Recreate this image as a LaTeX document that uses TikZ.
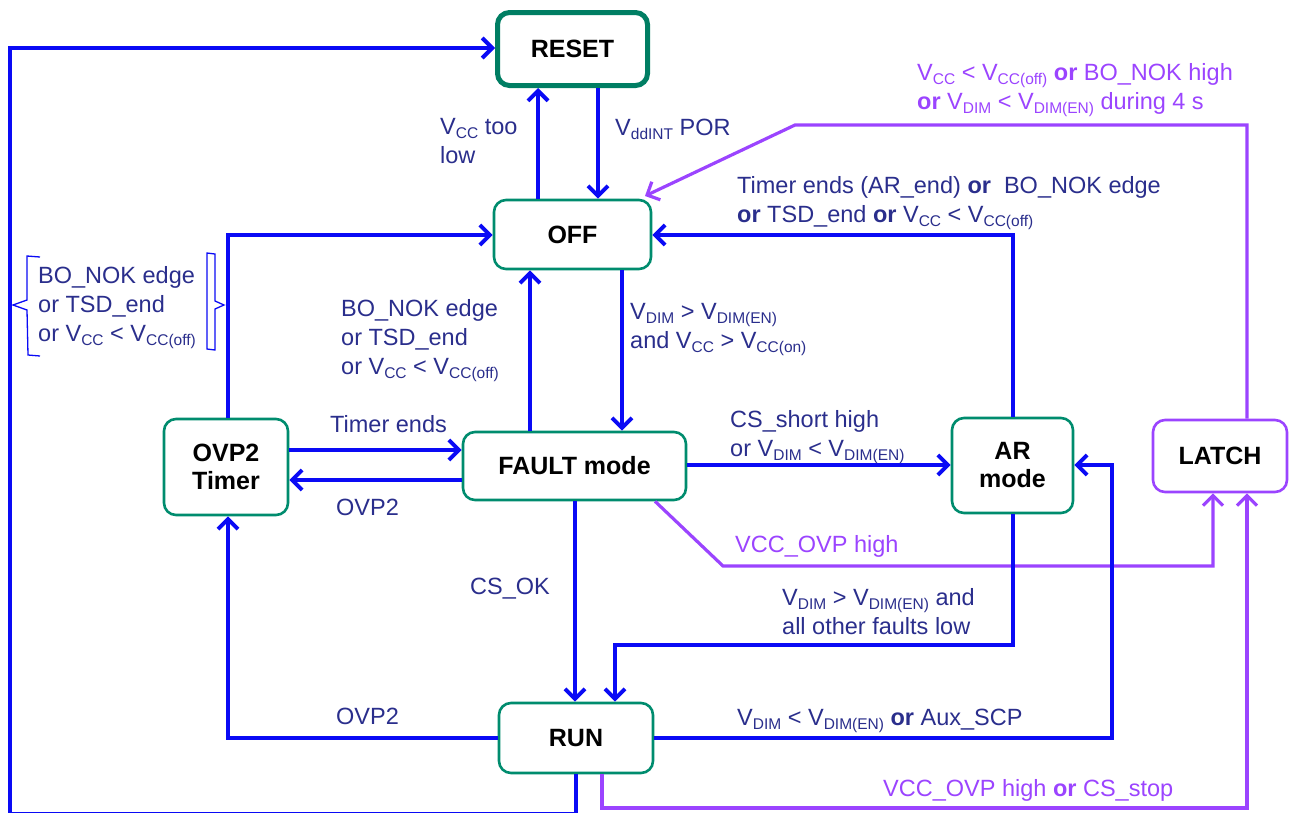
\documentclass[tikz,border=0pt]{standalone}
\usepackage{fontspec}
\setmainfont{Liberation Sans}
\usetikzlibrary{arrows.meta}
\definecolor{bl}{RGB}{10,10,245}
\definecolor{pu}{RGB}{155,68,255}
\definecolor{gr}{RGB}{0,140,110}
\definecolor{navy}{RGB}{42,46,140}
\newcommand{\sbs}[1]{\raisebox{-0.4ex}{\fontsize{15.5}{15.5}\selectfont #1}}
\begin{document}
\begin{tikzpicture}[x=1pt,y=-1pt,
  box/.style={draw=gr, line width=2.6pt, rounded corners=12pt, fill=white,
    font=\fontsize{25}{28}\selectfont\bfseries, align=center, inner sep=0pt},
  lab/.style={text=navy, font=\fontsize{23.5}{29}\selectfont, align=left, inner sep=0pt, anchor=base west},
  plab/.style={lab, text=pu},
  bla/.style={draw=bl, line width=4pt, -{Straight Barb[length=10pt,width=20pt]}},
  pua/.style={draw=pu, line width=3.2pt, -{Straight Barb[length=10pt,width=20pt]}},
  brk/.style={draw=bl, line width=1.3pt}
]
\useasboundingbox (0,0) rectangle (1289,812);

% nodes
\node[box, line width=5pt, draw=gr!90!black, minimum width=150pt, minimum height=73pt] (reset) at (572.5,49) {RESET};
\node[box, minimum width=157pt, minimum height=69pt] (off) at (572.5,234.5) {OFF};
\node[box, minimum width=223pt, minimum height=68pt] (fault) at (574.5,466) {FAULT mode};
\node[box, minimum width=124pt, minimum height=96pt] (ovp) at (226,467) {OVP2\\Timer};
\node[box, minimum width=121pt, minimum height=95pt] (ar) at (1012.5,465.5) {AR\\mode};
\node[box, draw=pu, minimum width=134pt, minimum height=72pt] (latch) at (1220,456) {LATCH};
\node[box, minimum width=154pt, minimum height=70pt] (run) at (576,738) {RUN};

\coordinate (tipP) at (645,196);

% connectors
\draw[bla] (off.north -| 538,0) -- (reset.south -| 538,0);
\draw[bla] (reset.south -| 598,0) -- (off.north -| 598,0);
\draw[bla] (run.south) -- (576,813.5) -- (10,813.5) -- (10,48) -- (reset.west |- 0,48);
\draw[bla] (ovp.north -| 228,0) -- (228,235) -- (off.west |- 0,235);
\draw[bla] (fault.north -| 530,0) -- (off.south -| 530,0);
\draw[bla] (off.south -| 622,0) -- (fault.north -| 622,0);
\draw[bla] (ar.north -| 1013,0) -- (1013,235) -- (off.east |- 0,235);
\draw[pua] (latch.north -| 1247,0) -- (1247,125) -- (795,125) -- (tipP);
\draw[bla] (ovp.east |- 0,450) -- (fault.west |- 0,450);
\draw[bla] (fault.west |- 0,480) -- (ovp.east |- 0,480);
\draw[bla] (fault.east |- 0,465) -- (ar.west |- 0,465);
\draw[pua] (fault.south -| 655,0) -- (723,566) -- (1213,566) -- (latch.south -| 1213,0);
\draw[bla] (fault.south -| 575,0) -- (run.north -| 575,0);
\draw[bla] (ar.south -| 1013,0) -- (1013,645) -- (615,645) -- (run.north -| 615,0);
\draw[bla] (run.west |- 0,738) -- (228,738) -- (ovp.south -| 228,0);
\draw[bla] (run.east |- 0,738) -- (1112,738) -- (1112,465) -- (ar.east |- 0,465);
\draw[pua] (run.south -| 602,0) -- (602,808) -- (1247,808) -- (latch.south -| 1247,0);

% bracket marks
\draw[brk] (40,257) -- (27,256) -- (27,300) -- (13,305) -- (27,310) -- (28,355) -- (40,356);
\draw[brk] (207,253) -- (215,254) -- (215,301) -- (224,305) -- (215,309) -- (215,350) -- (207,349) -- cycle;

% labels (base anchor = baseline of last line)
\node[lab] (lvcc) at (440,163) {V\sbs{CC} too\\low};
\node[lab] (lpor) at (615,135) {V\sbs{ddINT} POR};
\node[plab] (lpt) at (917,109) {V\sbs{CC} < V\sbs{CC(off)} \textbf{or} BO\_NOK high\\\textbf{or} V\sbs{DIM} < V\sbs{DIM(EN)} during 4 s};
\node[lab] (lar) at (737,222) {Timer ends (AR\_end) \textbf{or}\ \ BO\_NOK edge\\\textbf{or} TSD\_end \textbf{or} V\sbs{CC} < V\sbs{CC(off)}};
\node[lab] (lbo1) at (38,341) {BO\_NOK edge\\or TSD\_end\\or V\sbs{CC} < V\sbs{CC(off)}};
\node[lab] (lbo2) at (341,374) {BO\_NOK edge\\or TSD\_end\\or V\sbs{CC} < V\sbs{CC(off)}};
\node[lab] (len) at (630,348) {V\sbs{DIM} > V\sbs{DIM(EN)}\\and V\sbs{CC} > V\sbs{CC(on)}};
\node[lab] (lte) at (330,432) {Timer ends};
\node[lab] (lovp1) at (336,515) {OVP2};
\node[lab] (lcs) at (730,456) {CS\_short high\\or V\sbs{DIM} < V\sbs{DIM(EN)}};
\node[plab] (lvo) at (735,552) {VCC\_OVP high};
\node[lab] (lcsok) at (470,594) {CS\_OK};
\node[lab] (lall) at (782,634) {V\sbs{DIM} > V\sbs{DIM(EN)} and\\all other faults low};
\node[lab] (lovp2) at (336,724) {OVP2};
\node[lab] (laux) at (737,725) {V\sbs{DIM} < V\sbs{DIM(EN)} \textbf{or} Aux\_SCP};
\node[plab] (lstop) at (883,796) {VCC\_OVP high \textbf{or} CS\_stop};
\end{tikzpicture}
\end{document}
